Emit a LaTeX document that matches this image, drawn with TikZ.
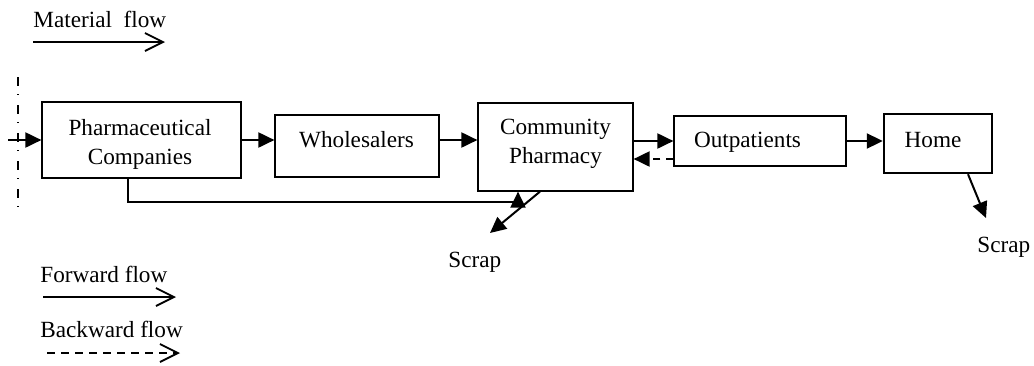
\documentclass[tikz,border=0pt]{standalone}
\usepackage{fontspec}
\setmainfont{Liberation Serif}
\usetikzlibrary{arrows.meta,calc}

\begin{document}
\begin{tikzpicture}[
    x=0.5pt, y=-0.5pt,
    box/.style={rectangle, draw, line width=0.6pt, inner sep=0pt},
    txt/.style={font=\fontsize{11.6}{14.5}\selectfont, inner sep=0pt, align=center},
    flow/.style={line width=1pt, -{Triangle[length=8pt,width=7.5pt]}},
    back/.style={flow, dash pattern=on 3.5pt off 3pt},
    legend/.style={line width=0.9pt, -{Straight Barb[length=9pt,width=9pt,line width=0.9pt]}},
]
\useasboundingbox (0,0) rectangle (1034,365);

% legend
\node[txt, anchor=base west] (mattxt) at (33,27) {Material\ \ flow};
\coordinate (mat1) at (33,42);
\coordinate (mat2) at (165,42);
\draw[legend] (mat1) -- (mat2);

\node[txt, anchor=base west] (fwdtxt) at (40,282) {Forward flow};
\coordinate (fwd1) at (43,297);
\coordinate (fwd2) at (176,297);
\draw[legend] (fwd1) -- (fwd2);

\node[txt, anchor=base west] (bwdtxt) at (40,337) {Backward flow};
\coordinate (bwd1) at (47,353);
\coordinate (bwd2) at (180,353);
\draw[legend, dash pattern=on 4pt off 3pt] (bwd1) -- (bwd2);

% boundary
\draw[line width=0.8pt, dash pattern=on 4.5pt off 4pt on 0.7pt off 4.8pt] (18,77) -- (18,208);

% actors
\node[box, minimum width=99.5pt, minimum height=38pt] (pharm) at (141.5,140) {};
\node[txt] (pharmtxt) at (140,144) {Pharmaceutical\\Companies};

\node[box, minimum width=82pt, minimum height=31pt] (whole) at (357,146) {};
\node[txt, anchor=base] (wholetxt) at (356.5,147) {Wholesalers};

\node[box, minimum width=77.5pt, minimum height=44pt] (comm) at (555.5,147) {};
\node[txt] (commtxt) at (555.5,143.5) {Community\\Pharmacy};

\node[box, minimum width=86pt, minimum height=25pt] (outp) at (760,141) {};
\node[txt, anchor=base] (outptxt) at (747.5,147) {Outpatients};

\node[box, line width=1.2pt, minimum width=54pt, minimum height=29.5pt] (home) at (938,143.5) {};
\node[txt, anchor=base] (hometxt) at (933,147) {Home};

% flows
\coordinate (src) at (8,140);
\draw[flow] (src) -- (pharm.west);
\draw[flow] (pharm.east) -- (pharm.east -| whole.west);
\draw[flow] (whole.east |- pharm.east) -- (comm.west |- pharm.east);
\draw[flow] (comm.east |- outp.west) -- (outp.west);
\draw[back] ($(outp.west)+(0,18)$) -- ($(comm.east |- outp.west)+(0,18)$);
\draw[flow] (outp.east) -- (outp.east -| home.west);
\draw[flow] ($(pharm.south)+(-13.5,0)$) |- ($(comm.south)+(-37.5,10)$) -- ($(comm.south)+(-37.5,0)$);

% scrap
\coordinate (scrap1end) at (490,233);
\draw[flow] ($(comm.south)+(-15.5,0)$) -- (scrap1end);
\node[txt, anchor=base west] (scrap1) at (448,267) {Scrap};

\coordinate (scrap2end) at (986,218);
\draw[flow] ($(home.south)+(30,0)$) -- (scrap2end);
\node[txt, anchor=base west] (scrap2) at (977,252) {Scrap};
\end{tikzpicture}
\end{document}
